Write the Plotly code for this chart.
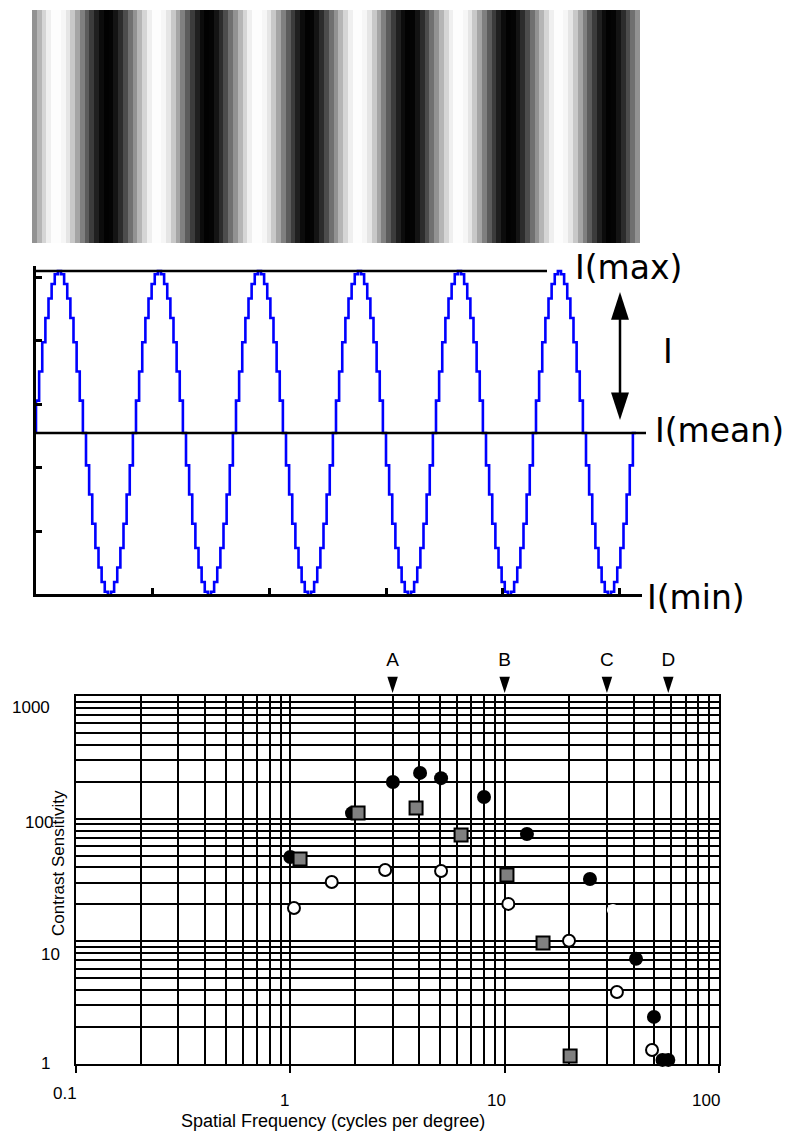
import plotly.graph_objects as go
import math

W, H = 793, 1132


def pxx(p):
    return p / W


def pxy(p):
    return 1 - p / H


# ---------------- data ----------------
# Grating: grey level of each stripe in one period
grating_period_levels = [146, 181, 213, 239, 253, 253, 246, 229, 200, 165, 128,
                         92, 60, 32, 12, 2, 4, 20, 44, 76, 112]
grating_stripe_count = 127

# Luminance profile: step level in one period (32 steps), mean = 0, max = 1, min = -1
wave_period_levels = [0.0, 0.2, 0.38, 0.56, 0.71, 0.83, 0.92, 0.98,
                      1.0, 0.98, 0.92, 0.83, 0.71, 0.56, 0.38, 0.2,
                      0.0, -0.2, -0.38, -0.56, -0.71, -0.83, -0.92, -0.98,
                      -1.0, -0.98, -0.92, -0.83, -0.71, -0.56, -0.38, -0.2]
wave_cycles = 6

# Contrast sensitivity data (spatial frequency in c/deg, sensitivity)
black_x = [1.0, 1.94, 3.01, 4.03, 5.05, 8.01, 12.7, 25.0, 41.0, 49.7, 54.5, 58.0]
black_y = [48.7, 111, 199, 236, 214, 150, 75, 32.2, 7.2, 2.42, 1.08, 1.08]
square_x = [1.11, 2.07, 3.86, 6.26, 10.25, 15.1, 20.2]
square_y = [46.9, 111, 122, 73.6, 34.7, 9.69, 1.16]
open_x = [1.04, 1.56, 2.77, 5.05, 10.4, 19.96, 33.4, 48.7]
open_y = [18.7, 30.5, 38.1, 37.4, 20.2, 10.1, 3.86, 1.30]
blank_x = [32.0]
blank_y = [18.0]

letter_x = [3, 10, 30, 58]
letter_text = ["A", "B", "C", "D"]

x_tick_vals = [0.1, 1, 10, 100]
x_tick_text = ["0.1", "1", "10", "100"]
y_tick_vals = [1, 10, 100, 1000]
y_tick_text = ["1", "10", "100", "1000"]
minor_x = [m * d for d in (0.1, 1, 10) for m in range(2, 10)]
minor_y = [m * d for d in (1, 10, 100) for m in range(2, 10)]

# ---------------- figure ----------------
fig = go.Figure()

# grating image
grating_z = [(grating_period_levels * 10)[:grating_stripe_count]]
fig.add_trace(go.Heatmap(
    z=grating_z, x=list(range(grating_stripe_count)), y=[0],
    colorscale=[[0, "#000000"], [1, "#ffffff"]], zmin=0, zmax=255,
    showscale=False, xaxis="x3", yaxis="y3", hoverinfo="skip"))

# luminance profile
n_steps = len(wave_period_levels)
wave_y = wave_period_levels * wave_cycles + [wave_period_levels[0]]
wave_x = [k / n_steps for k in range(len(wave_y))]
fig.add_trace(go.Scatter(
    x=wave_x, y=wave_y, mode="lines", line=dict(color="#0000ff", width=2.6, shape="vh"),
    xaxis="x2", yaxis="y2", cliponaxis=False, hoverinfo="skip"))

# double arrow (contrast amplitude)
arrow_x = 5.84
arrow_top, arrow_bot = 0.87, 0.08
fig.add_trace(go.Scatter(
    x=[arrow_x, arrow_x], y=[arrow_top - 0.1, arrow_bot + 0.1], mode="lines",
    line=dict(color="black", width=2.5), xaxis="x2", yaxis="y2", hoverinfo="skip"))
fig.add_trace(go.Scatter(
    x=[arrow_x, arrow_x], y=[arrow_top, arrow_bot], mode="markers",
    marker=dict(symbol="arrow", size=29, color="black", angle=[0, 180], line=dict(width=0)),
    xaxis="x2", yaxis="y2", cliponaxis=False, hoverinfo="skip"))

# contrast sensitivity points
fig.add_trace(go.Scatter(
    x=black_x, y=black_y, mode="markers",
    marker=dict(symbol="circle", size=14, color="black", line=dict(width=0)),
    xaxis="x", yaxis="y", cliponaxis=False))
fig.add_trace(go.Scatter(
    x=square_x, y=square_y, mode="markers",
    marker=dict(symbol="square", size=13, color="#808080", line=dict(color="black", width=2)),
    xaxis="x", yaxis="y", cliponaxis=False))
fig.add_trace(go.Scatter(
    x=open_x, y=open_y, mode="markers",
    marker=dict(symbol="circle", size=12, color="white", line=dict(color="black", width=2)),
    xaxis="x", yaxis="y", cliponaxis=False))
fig.add_trace(go.Scatter(
    x=blank_x, y=blank_y, mode="markers",
    marker=dict(symbol="circle", size=12, color="white", line=dict(width=0)),
    xaxis="x", yaxis="y", cliponaxis=False))

# letters with pointers above the graph (header strip sharing the frequency scale;
# its y unit is pixels above the top of the graph)
fig.add_trace(go.Scatter(
    x=letter_x, y=[3] * len(letter_x), mode="markers",
    marker=dict(symbol="arrow", size=17, color="black", angle=180, line=dict(width=0)),
    xaxis="x4", yaxis="y4", cliponaxis=False, hoverinfo="skip"))
fig.add_trace(go.Scatter(
    x=letter_x, y=[35] * len(letter_x), mode="text", text=letter_text,
    textposition="middle center",
    textfont=dict(family="Liberation Sans, Arial, sans-serif", size=19, color="black"),
    xaxis="x4", yaxis="y4", cliponaxis=False, hoverinfo="skip"))

# ---------------- axes ----------------
fig.update_layout(
    width=W, height=H, margin=dict(l=0, r=0, t=0, b=0),
    paper_bgcolor="white", plot_bgcolor="white", showlegend=False,
    font=dict(family="Liberation Sans, Arial, sans-serif", color="black"),
    xaxis=dict(
        domain=[pxx(76), pxx(719)], type="log", range=[-1, 2], anchor="y",
        tickmode="array", tickvals=x_tick_vals, showticklabels=False,
        ticks="outside", ticklen=7, tickwidth=2, tickcolor="black",
        showgrid=True, gridcolor="black", gridwidth=2, zeroline=False,
        showline=True, linecolor="black", linewidth=2, mirror=True,
        minor=dict(tickmode="array", tickvals=minor_x, showgrid=True,
                   gridcolor="black", gridwidth=2, ticks="")),
    yaxis=dict(
        domain=[pxy(1064), pxy(696)], type="log", range=[0, 3], anchor="x",
        tickmode="array", tickvals=y_tick_vals, showticklabels=False, ticks="",
        showgrid=True, gridcolor="black", gridwidth=2, zeroline=False,
        showline=True, linecolor="black", linewidth=2, mirror=True,
        minor=dict(tickmode="array", tickvals=minor_y, showgrid=True,
                   gridcolor="black", gridwidth=2, ticks="")),
    xaxis2=dict(
        domain=[pxx(36), pxx(642)], range=[0, (642 - 36) / 100], anchor="y2",
        showgrid=False, zeroline=False, showticklabels=False,
        ticks="inside", tick0=0, dtick=1.167, ticklen=6, tickwidth=3, tickcolor="black",
        showline=True, linecolor="black", linewidth=3),
    yaxis2=dict(
        domain=[pxy(594), pxy(266)], range=[(433 - 594) / 162, (433 - 266) / 162], anchor="x2",
        showgrid=False, zeroline=False, showticklabels=False,
        ticks="inside", tick0=-1, dtick=0.392, ticklen=6, tickwidth=3, tickcolor="black",
        showline=True, linecolor="black", linewidth=3),
    xaxis3=dict(domain=[pxx(32), pxx(640)], range=[-0.5, grating_stripe_count - 0.5],
                visible=False, anchor="y3"),
    yaxis3=dict(domain=[pxy(243), pxy(10)], range=[-0.5, 0.5], visible=False, anchor="x3"),
    xaxis4=dict(domain=[pxx(76), pxx(719)], type="log", range=[-1, 2], visible=False, anchor="y4"),
    yaxis4=dict(domain=[pxy(696), pxy(640)], range=[0, 56], visible=False, anchor="x4"),
)

# reference lines on the profile (max and mean)
fig.add_shape(type="line", xref="paper", yref="y2", x0=pxx(35), x1=pxx(547), y0=1, y1=1,
              line=dict(color="black", width=2.5))
fig.add_shape(type="line", xref="paper", yref="y2", x0=pxx(35), x1=pxx(646), y0=0, y1=0,
              line=dict(color="black", width=2.5))

# profile labels
lab_font = dict(family="DejaVu Sans, Verdana, sans-serif", size=33, color="black")
for txt, xl, yc in [("I(max)", 573, 267), ("I", 661, 351), ("I(mean)", 653, 430), ("I(min)", 645, 597)]:
    fig.add_annotation(text=txt, xref="paper", yref="paper", x=pxx(xl), y=pxy(yc),
                       xanchor="left", yanchor="middle", showarrow=False, font=lab_font)

# tick labels of the sensitivity graph
tick_font = dict(family="Liberation Sans, Arial, sans-serif", size=17, color="black")
x_label_shift = [-11, -6, -8, -13]
x_label_y = [1093, 1100, 1100, 1100]
for v, t, dx, yl in zip(x_tick_vals, x_tick_text, x_label_shift, x_label_y):
    fig.add_annotation(text=t, xref="x", yref="paper", x=math.log10(v), y=pxy(yl),
                       xanchor="center", yanchor="middle", xshift=dx, showarrow=False, font=tick_font)
y_label_right = [52, 62, 55, 52]
y_label_shift = [1, -13, -4, -11]
for v, t, xr, dy in zip(y_tick_vals, y_tick_text, y_label_right, y_label_shift):
    fig.add_annotation(text=t, xref="paper", yref="y", x=pxx(xr), y=math.log10(v),
                       xanchor="right", yanchor="middle", yshift=dy, showarrow=False, font=tick_font)

# axis titles
fig.add_annotation(text="Contrast Sensitivity", xref="paper", yref="paper", x=pxx(58), y=pxy(863),
                   textangle=-90, showarrow=False, xanchor="center", yanchor="middle",
                   font=dict(family="Liberation Sans, Arial, sans-serif", size=17, color="black"))
fig.add_annotation(text="Spatial Frequency (cycles per degree)", xref="paper", yref="paper",
                   x=pxx(333), y=pxy(1121), showarrow=False, xanchor="center", yanchor="middle",
                   font=dict(family="Liberation Sans, Arial, sans-serif", size=18, color="black"))

fig.write_html("out.html", config={"displayModeBar": False},
               post_script="document.body.style.margin='0';document.body.style.overflow='hidden';")
